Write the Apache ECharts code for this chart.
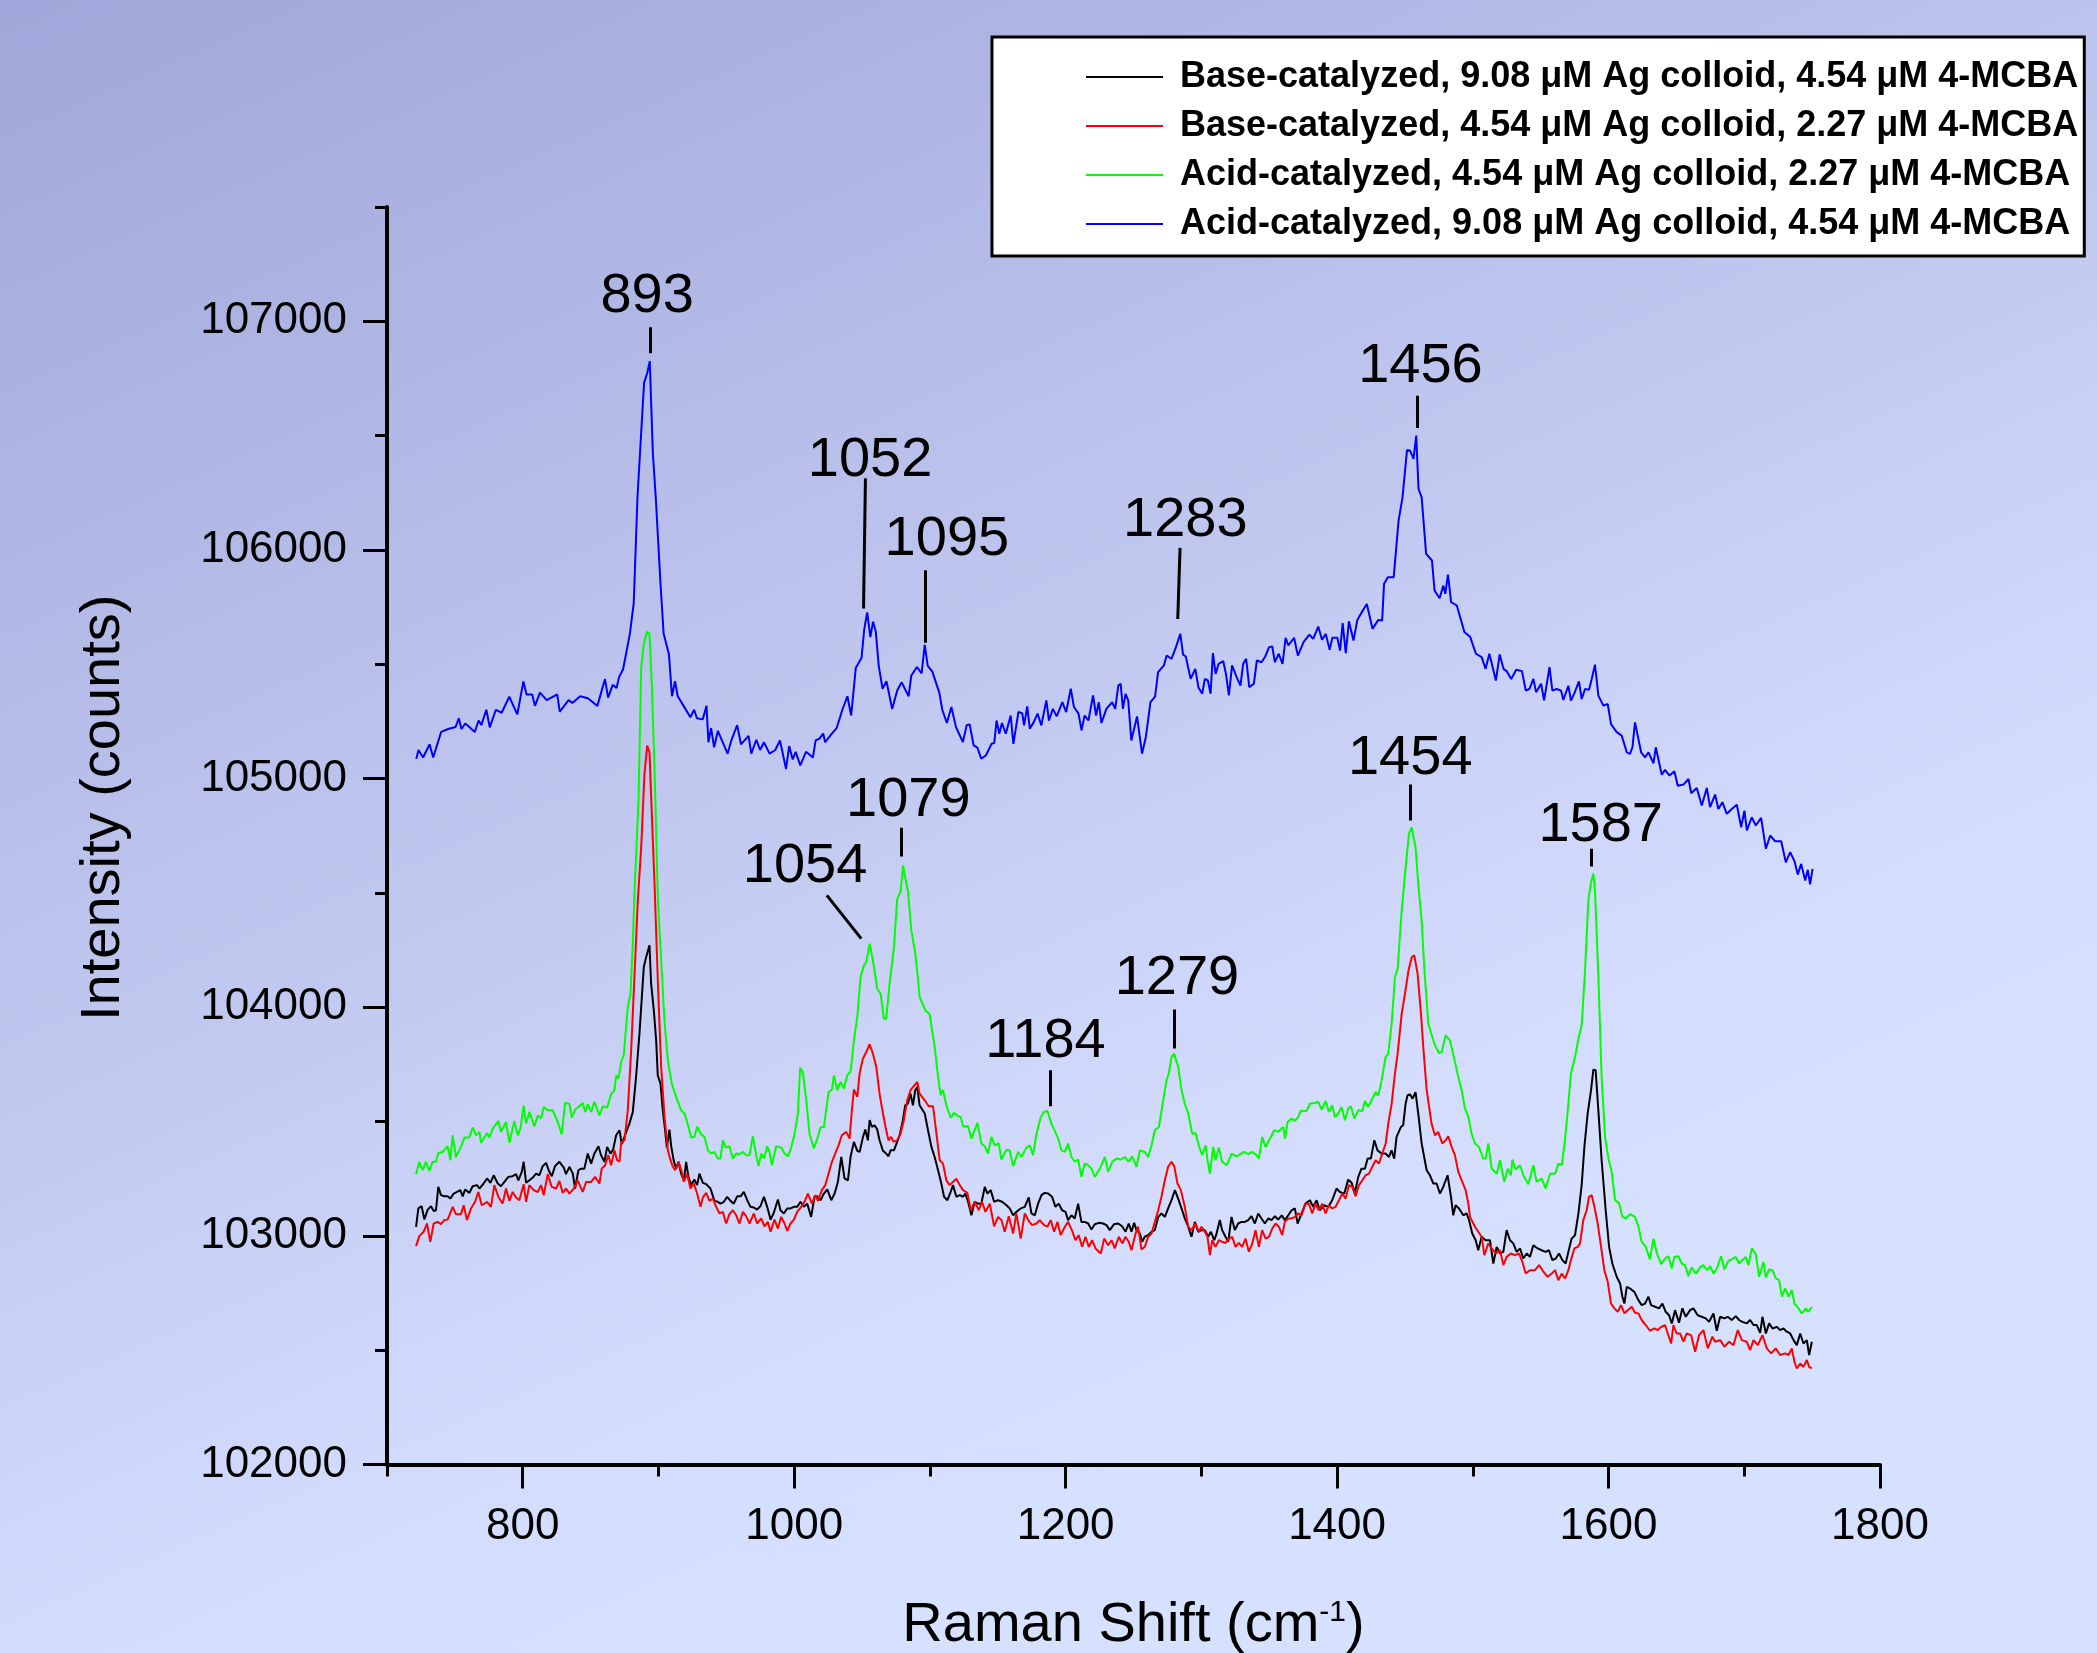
<!DOCTYPE html>
<html><head><meta charset="utf-8">
<script src="https://cdn.jsdelivr.net/npm/echarts@6/dist/echarts.min.js"></script>
<style>html,body{margin:0;padding:0;overflow:hidden;background:#c0c7ef}#c{width:2097px;height:1653px}</style>
</head><body><div id="c"></div>
<script>
const seriesNames = [
  'Base-catalyzed, 9.08 \u03bcM Ag colloid, 4.54 \u03bcM 4-MCBA',
  'Base-catalyzed, 4.54 \u03bcM Ag colloid, 2.27 \u03bcM 4-MCBA',
  'Acid-catalyzed, 4.54 \u03bcM Ag colloid, 2.27 \u03bcM 4-MCBA',
  'Acid-catalyzed, 9.08 \u03bcM Ag colloid, 4.54 \u03bcM 4-MCBA'
];
const seriesColors = ['#000000', '#ff0000', '#00ff00', '#0000ff'];

const xMajorTicks = [800, 1000, 1200, 1400, 1600, 1800];
const xMinorTicks = [700, 900, 1100, 1300, 1500, 1700];
const yMajorTicks = [102000, 103000, 104000, 105000, 106000, 107000];
const yMinorTicks = [102500, 103500, 104500, 105500, 106500, 107500];

const peakLabels = ['893', '1052', '1095', '1283', '1456', '1454', '1587', '1079', '1054', '1184', '1279'];
const peakLabelPos = [[891.7,107107],[1055.9,106393],[1112.5,106045],[1288.2,106129],[1461.4,106801],[1453.9,105087],[1594.2,104796],[1084.1,104903],[1008,104616],[1185.2,103848],[1282,104125]];
const peakLeaders = [
  [[893.9,106974],[893.9,106860]],
  [[1052.5,106313],[1051.1,105744]],
  [[1096.2,105911],[1096.2,105594]],
  [[1284.3,106009],[1282.6,105698]],
  [[1458.7,106674],[1458.7,106533]],
  [[1453.9,104974],[1453.9,104817]],
  [[1587.3,104693],[1587.3,104616]],
  [[1079,104785],[1079,104659]],
  [[1024.1,104489],[1049.4,104300]],
  [[1188.3,103724],[1188.3,103567]],
  [[1280,103990],[1280,103819]]
];

const blackData = [[721.4,103039],[723.1,103120],[725.5,103130],[727.5,103072],[730,103115],[732.4,103130],[734.4,103109],[736.1,103112],[737.8,103214],[739.8,103178],[742.2,103173],[744.7,103173],[746.7,103163],[749.1,103185],[751.6,103192],[754,103200],[755.8,103173],[757.5,103203],[760.7,103188],[763.1,103217],[766.3,103222],[768.1,103207],[771.2,103229],[773.7,103251],[776.2,103232],[778.6,103265],[781.6,103229],[784,103217],[786.5,103236],[789.4,103258],[792.6,103261],[795.1,103270],[796.8,103243],[799.3,103280],[800.7,103324],[802.5,103232],[804.9,103243],[807.4,103255],[809.8,103272],[812.3,103265],[814.7,103305],[817.2,103319],[819.6,103280],[821.4,103261],[823.8,103305],[827,103324],[830.2,103299],[831.9,103270],[834.4,103302],[836.9,103272],[838.6,103207],[841,103287],[843,103294],[845.4,103294],[847.9,103360],[850.4,103316],[852.8,103360],[855.8,103392],[857.7,103353],[860.2,103324],[862.2,103389],[864.6,103360],[866.6,103377],[868.8,103440],[871.3,103462],[873,103401],[875.4,103440],[878.6,103491],[881.1,103542],[883.5,103695],[886,103884],[889.2,104176],[890.9,104219],[893.4,104271],[894.6,104103],[896.6,103986],[898.3,103855],[899.5,103702],[901.5,103666],[903.2,103549],[904.9,103462],[906.2,103386],[908.1,103465],[909.3,103396],[911.3,103328],[913,103294],[914.8,103324],[916.7,103272],[918.7,103243],[920.4,103324],[922.1,103258],[924.1,103222],[926.5,103246],[928.5,103222],[930.2,103272],[932.7,103232],[935.2,103226],[938.3,103207],[941.3,103153],[943.7,103149],[945.7,103141],[948.2,103149],[950.6,103171],[953.1,103153],[955.5,103141],[958,103173],[960.5,103173],[962.9,103192],[965.4,103156],[967.8,103127],[970.3,103124],[972.7,103115],[975.2,103130],[977.7,103171],[980.1,103127],[982.6,103071],[985,103101],[988,103159],[989.9,103112],[992.4,103098],[994.9,103120],[997.3,103120],[999.8,103127],[1002.2,103127],[1004.7,103149],[1007.1,103127],[1009.6,103141],[1012.5,103083],[1015,103171],[1017,103173],[1019.4,103156],[1021.9,103185],[1024.4,103203],[1027.3,103156],[1029.8,103185],[1032.2,103236],[1034.7,103345],[1037.1,103251],[1039.6,103243],[1041.6,103348],[1044,103411],[1046.5,103372],[1048.2,103367],[1050.6,103430],[1052.4,103465],[1054.3,103418],[1055.6,103506],[1057.3,103476],[1059.2,103484],[1061.2,103465],[1062.9,103418],[1065.4,103372],[1067.8,103360],[1069.5,103348],[1071,103374],[1073.5,103374],[1075.9,103411],[1077.7,103440],[1080.1,103506],[1081.8,103571],[1083.8,103578],[1085.7,103622],[1087.5,103571],[1089.2,103637],[1090.7,103651],[1092.4,103571],[1096.2,103535],[1098.6,103462],[1101.1,103389],[1103.5,103345],[1106,103287],[1108.4,103229],[1110.4,103171],[1112.9,103156],[1115.3,103192],[1117,103222],[1119.5,103171],[1122,103178],[1124.4,103171],[1126.1,103185],[1128.1,103149],[1130.6,103090],[1133,103149],[1135.5,103141],[1137.9,103141],[1140.4,103214],[1142.4,103185],[1144.8,103200],[1147.3,103149],[1150.2,103156],[1153.2,103149],[1156.4,103134],[1158.8,103120],[1161.3,103090],[1163.7,103105],[1166.9,103120],[1169.9,103127],[1172.8,103168],[1174.8,103098],[1177.3,103090],[1179.7,103141],[1182.2,103178],[1184.6,103188],[1187.1,103185],[1190,103171],[1192.5,103127],[1194.9,103141],[1197.4,103112],[1199.9,103105],[1201.8,103069],[1204.3,103090],[1206.7,103076],[1209.2,103141],[1211.6,103061],[1214.1,103061],[1216.6,103054],[1219,103028],[1221.5,103051],[1224.4,103057],[1227.6,103054],[1230.1,103047],[1232.5,103025],[1235.7,103051],[1238.7,103054],[1241.6,103042],[1244.1,103018],[1246.5,103054],[1248.5,103018],[1250.5,103057],[1252.2,103025],[1254.7,103010],[1256.4,102974],[1258.3,102996],[1260.8,103003],[1263.3,103018],[1265.7,103025],[1268.2,103083],[1270.6,103098],[1273.1,103083],[1275.5,103120],[1278,103156],[1280.5,103200],[1282.9,103163],[1285.4,103120],[1287.8,103076],[1290.3,103040],[1292.7,102996],[1295.2,103061],[1297.7,103018],[1300.1,103025],[1302.6,103025],[1305,102996],[1307,103018],[1309.5,102981],[1311.2,103010],[1313.6,103069],[1315.3,103025],[1317.8,102996],[1319.8,102974],[1322.2,103083],[1324.7,103025],[1327.1,103054],[1329.6,103061],[1332,103061],[1334.5,103069],[1336.9,103086],[1339.4,103054],[1341.9,103098],[1344.3,103076],[1346.8,103054],[1349.3,103076],[1351.7,103069],[1354.2,103086],[1356.6,103071],[1359.2,103090],[1361.5,103069],[1364,103090],[1366.5,103112],[1368.9,103120],[1370.9,103054],[1376.7,103141],[1380,103156],[1382.4,103127],[1384.9,103156],[1387.3,103112],[1390.5,103134],[1393.5,103127],[1396.4,103156],[1399.6,103207],[1402.1,103192],[1405.3,103185],[1408.2,103246],[1410.7,103232],[1413.1,103188],[1415.6,103258],[1418,103294],[1420.5,103294],[1422.5,103338],[1424.9,103338],[1427.4,103418],[1429.8,103374],[1432.8,103360],[1435.7,103360],[1438.2,103345],[1440.1,103374],[1442.1,103338],[1443.8,103433],[1447,103476],[1448.7,103484],[1450.5,103579],[1451.9,103615],[1453.7,103619],[1455.6,103600],[1457.8,103629],[1459.8,103535],[1462.3,103404],[1466,103287],[1468.4,103265],[1470.9,103229],[1473.3,103229],[1475.8,103185],[1478.2,103214],[1481.4,103265],[1483.9,103171],[1485.6,103090],[1487.3,103134],[1489.8,103120],[1493,103090],[1495.4,103098],[1497.2,103069],[1499.6,103010],[1502.1,102981],[1504,102937],[1506.5,102996],[1509.4,102981],[1512.6,102981],[1515.1,102879],[1517.6,102952],[1520,102923],[1522.5,102930],[1524.9,103025],[1527.4,102981],[1529.8,102967],[1532.3,102930],[1534.8,102945],[1537.2,102901],[1539.7,102923],[1542.1,102908],[1544.6,102959],[1547.8,102945],[1550.7,102937],[1553.7,102930],[1556.1,102937],[1558.6,102894],[1561.1,102901],[1563.5,102923],[1566,102894],[1568.4,102879],[1570.4,102930],[1572.8,102988],[1575.3,103003],[1577.8,103098],[1580.2,103222],[1582.2,103389],[1584.6,103535],[1587.1,103637],[1588.8,103727],[1590.5,103724],[1592.5,103549],[1594.9,103331],[1597.9,103112],[1600.4,102952],[1602.8,102879],[1606,102821],[1608.5,102792],[1610.2,102734],[1611.7,102704],[1613.4,102777],[1615.8,102770],[1619,102755],[1622,102719],[1624.4,102697],[1626.9,102704],[1629.4,102734],[1631.3,102697],[1634.3,102690],[1637.2,102683],[1639.7,102704],[1642.1,102668],[1644.6,102653],[1646.6,102617],[1649,102675],[1651.9,102620],[1654.4,102683],[1656.9,102646],[1660.1,102675],[1662.5,102683],[1665.7,102653],[1668.7,102646],[1671.6,102639],[1674.1,102624],[1677.3,102661],[1679.7,102585],[1682.2,102646],[1685.4,102639],[1687.8,102646],[1690.8,102632],[1693.7,102649],[1696.2,102632],[1698.6,102624],[1701.8,102617],[1704.3,102632],[1706.8,102610],[1709.2,102610],[1711.7,102576],[1713.4,102646],[1715.9,102573],[1718.3,102617],[1720.8,102595],[1724,102602],[1726.4,102588],[1728.9,102595],[1731.3,102581],[1733.8,102573],[1736.3,102544],[1738.7,102522],[1741.2,102573],[1743.6,102529],[1746.1,102544],[1747.8,102479],[1749.8,102537]];

const redData = [[721.4,102955],[723.8,102999],[727,103018],[729.5,103054],[731.9,102974],[734.4,103054],[737.3,103061],[739.8,103051],[742.2,103069],[744.7,103071],[748.4,103127],[750.8,103095],[754.5,103095],[756.5,103134],[758.9,103069],[761.9,103120],[764.9,103149],[767.3,103192],[769.8,103134],[773.7,103149],[776.6,103127],[779.1,103222],[782.1,103170],[785.2,103141],[787.7,103207],[790.2,103153],[792.6,103192],[795.1,103168],[797.5,103156],[800.7,103226],[802.5,103149],[804.9,103222],[808.1,103200],[811.1,103192],[813.5,103222],[815.5,103178],[818.4,103270],[821.4,103214],[824.6,103207],[827,103240],[829.5,103188],[831.9,103207],[834.4,103185],[837.6,103207],[840.5,103243],[844.2,103192],[846.7,103236],[850.4,103236],[853.3,103258],[856.5,103229],[858.2,103294],[860.7,103309],[863.1,103353],[865.1,103309],[867.6,103374],[869.5,103331],[871.3,103324],[872.5,103407],[875,103418],[877.4,103549],[879.9,103812],[882.3,104132],[884.8,104467],[887.3,104700],[889.7,105020],[891.7,105144],[893.4,105115],[895.1,104846],[897.1,104540],[899.6,104103],[902,103738],[904.5,103520],[906.9,103374],[908.9,103331],[910.6,103302],[912.3,103287],[914.8,103324],[917.2,103280],[918.7,103236],[921.1,103272],[923.6,103207],[926.1,103229],[928.5,103185],[931,103127],[932.7,103168],[935.2,103188],[937.6,103153],[940.1,103163],[942.5,103127],[945,103098],[947.4,103105],[949.9,103054],[952.3,103095],[954.8,103112],[957.3,103090],[959.7,103054],[962.2,103105],[964.6,103086],[967.1,103054],[970.3,103098],[972.7,103054],[975.7,103076],[978.1,103042],[980.6,103061],[982.6,103018],[985.5,103071],[988,103032],[990.4,103083],[992.9,103054],[994.9,103022],[997.3,103054],[999.8,103071],[1002.2,103105],[1005.2,103127],[1007.6,103149],[1010.1,103185],[1013.1,103141],[1015.5,103178],[1017.5,103153],[1020.4,103200],[1022.9,103222],[1025.3,103272],[1027.8,103324],[1030.2,103360],[1032.7,103396],[1035.1,103440],[1038.4,103455],[1040.8,103425],[1042.5,103549],[1044,103640],[1046.5,103608],[1048.2,103710],[1050.6,103775],[1053.1,103804],[1055.6,103838],[1058,103797],[1060.5,103739],[1062.9,103622],[1065.4,103535],[1067.8,103462],[1069.5,103418],[1071.4,103433],[1073.3,103411],[1075.9,103418],[1078.4,103447],[1080.8,103506],[1083.3,103593],[1085.7,103637],[1088.7,103659],[1090.7,103673],[1092.4,103622],[1096.2,103593],[1099.1,103567],[1102.3,103567],[1104.8,103447],[1107.2,103331],[1109.7,103316],[1112.1,103243],[1114.6,103222],[1117,103236],[1119.5,103250],[1122,103222],[1124.4,103200],[1127.6,103188],[1130.1,103112],[1133,103149],[1136,103112],[1138.4,103149],[1140.9,103105],[1144.1,103141],[1147.3,103042],[1150.2,103083],[1152.7,103069],[1155.1,103018],[1158.1,103086],[1161.3,103010],[1163.7,103098],[1166.9,102988],[1169.9,103098],[1172.8,103066],[1175.3,103047],[1178.5,103054],[1180.9,103069],[1184.1,103047],[1186.6,103040],[1189,103069],[1191.5,103018],[1194,103061],[1196.4,103003],[1199.4,103040],[1201.8,103061],[1204.8,103022],[1207.2,102981],[1209.7,103003],[1212.1,102952],[1214.6,102996],[1217.1,102952],[1219.5,102981],[1222,102945],[1225.9,102923],[1228.4,102988],[1231.3,102959],[1233.8,102981],[1236.2,102945],[1239.2,102996],[1241.9,102967],[1244.1,102996],[1246.5,102974],[1248.5,102937],[1251.5,103010],[1253.4,103040],[1255.9,102940],[1258.3,102952],[1260.8,102996],[1263.3,103010],[1265.7,103061],[1268.2,103112],[1270.6,103171],[1273.1,103243],[1275.5,103302],[1278,103324],[1280,103305],[1282.4,103229],[1284.9,103200],[1287.8,103127],[1290.3,103040],[1292.7,103025],[1295.7,103054],[1298.1,103018],[1300.1,103040],[1302.6,103018],[1304.5,102996],[1306.3,102916],[1308,102981],[1310.4,102952],[1312.9,102981],[1315.3,102974],[1317.8,102969],[1320.3,102988],[1322.7,102996],[1325.2,102952],[1327.6,102969],[1330.1,102952],[1332.5,102988],[1335,102930],[1337.5,102967],[1339.9,103025],[1342.4,102952],[1344.8,103025],[1347.3,102988],[1349.8,102996],[1352.2,103032],[1354.7,103054],[1357.1,103040],[1359.6,103003],[1361.5,103061],[1364,103076],[1366.5,103076],[1368.9,103083],[1371.4,103098],[1373.8,103090],[1376.8,103141],[1379.2,103141],[1381.7,103098],[1384.1,103141],[1386.6,103112],[1389.1,103141],[1391.5,103098],[1394,103134],[1396.4,103120],[1398.9,103127],[1401.4,103156],[1403.8,103185],[1406.3,103163],[1408.7,103222],[1411.2,103214],[1413.6,103173],[1416.1,103222],[1418.6,103243],[1421,103265],[1423.5,103272],[1425.9,103302],[1428.4,103331],[1430.8,103316],[1433.3,103360],[1435.8,103404],[1437.7,103491],[1440.2,103578],[1442.6,103710],[1444.6,103797],[1447.6,103972],[1450,104059],[1452.6,104161],[1455,104219],[1456.9,104227],[1459.3,104147],[1461.8,103972],[1463.5,103826],[1466,103637],[1469.6,103491],[1472.1,103440],[1474.5,103455],[1477.5,103404],[1480,103418],[1481.9,103436],[1484.4,103389],[1486.8,103353],[1489.3,103280],[1491.8,103243],[1494.7,103200],[1496.7,103141],[1497.9,103083],[1501.6,103040],[1504,103018],[1506.5,102996],[1508.5,102916],[1511.4,102967],[1513.9,102945],[1516.8,102923],[1520,102937],[1522.5,102872],[1524.9,102908],[1528.1,102923],[1531.1,102916],[1534,102923],[1536.5,102886],[1539,102835],[1542.1,102850],[1545.8,102850],[1548.8,102872],[1552,102843],[1555.2,102821],[1558.1,102835],[1560.6,102850],[1563,102806],[1565.5,102835],[1568,102814],[1570.4,102850],[1572.3,102894],[1574.8,102945],[1577.3,102952],[1579,102967],[1581.4,103069],[1583.9,103112],[1585.6,103171],[1587.6,103178],[1589.6,103127],[1592,103054],[1594.5,102952],[1596.9,102850],[1599.4,102799],[1601.8,102704],[1604.3,102683],[1606.8,102668],[1609.2,102697],[1611.7,102661],[1614.1,102675],[1617.1,102690],[1619.5,102664],[1622,102661],[1624.4,102632],[1627.4,102610],[1630.5,102585],[1633.8,102595],[1636.2,102588],[1638.7,102602],[1641.6,102610],[1643.6,102573],[1646.1,102529],[1647.8,102610],[1650.2,102573],[1652.7,102573],[1655.2,102537],[1657.6,102573],[1660.8,102566],[1663.8,102493],[1666.7,102566],[1669.9,102588],[1673.1,102508],[1676.5,102559],[1678.5,102537],[1682.2,102544],[1685.4,102515],[1688.8,102537],[1692,102522],[1695.2,102588],[1698.2,102544],[1701.8,102537],[1704.3,102500],[1706.8,102544],[1710,102522],[1713.4,102566],[1716.6,102508],[1719.8,102486],[1723.2,102508],[1726.4,102479],[1730.1,102486],[1732.6,102479],[1735,102508],[1737,102449],[1738.7,102420],[1741.2,102442],[1743.6,102427],[1746.1,102457],[1747.8,102427],[1749.8,102420]];

const greenData = [[721.4,103270],[723.8,103324],[726.3,103287],[728.7,103324],[731.2,103284],[733.6,103324],[736.1,103324],[737.8,103363],[741,103367],[744.7,103392],[746.7,103331],[748.4,103440],[750.8,103345],[754.5,103389],[757,103430],[760.7,103430],[763.1,103474],[765.6,103440],[768.1,103455],[769.3,103407],[773.7,103450],[775.4,103430],[777.9,103469],[782.1,103503],[784,103455],[787.7,103498],[790.2,103407],[793.8,103503],[796.3,103440],[798.3,103469],[800.7,103571],[802.5,103491],[804.9,103542],[808.6,103479],[811.1,103527],[813.5,103513],[815.5,103564],[818.4,103549],[822.1,103549],[825.8,103498],[828.7,103444],[831.2,103581],[834.4,103578],[836.1,103517],[838.6,103552],[841,103564],[844.2,103581],[846,103542],[847.9,103576],[850.4,103542],[852.8,103586],[856.5,103527],[859,103567],[862.2,103561],[865.1,103619],[867.6,103637],[868.8,103702],[870.5,103688],[872.5,103761],[874.4,103790],[877.4,104001],[879.4,104059],[881.1,104278],[882.3,104496],[885.3,104904],[887.3,105487],[889.2,105589],[891.7,105644],[893.4,105632],[895.1,105414],[897.1,105050],[899.6,104467],[904.4,103943],[906.9,103768],[909.8,103666],[913,103608],[916.7,103549],[919.2,103535],[922.1,103477],[924.1,103430],[926.5,103433],[928.5,103477],[931.5,103444],[933.9,103433],[936.4,103374],[938.8,103360],[941.3,103367],[943.7,103338],[945.7,103338],[947.4,103418],[949.9,103386],[952.3,103392],[954.8,103338],[957.3,103360],[959.7,103357],[962.2,103367],[964.6,103353],[967.1,103353],[969.5,103436],[972,103353],[973.7,103305],[975.7,103360],[977.7,103338],[980.1,103392],[981.8,103367],[983.6,103309],[986.7,103392],[990.4,103386],[992.9,103360],[995.4,103348],[997.8,103386],[1000.3,103447],[1002.7,103535],[1004.4,103736],[1006.4,103717],[1008.9,103593],[1011.3,103447],[1014.5,103382],[1017,103425],[1019.4,103474],[1021.9,103477],[1025.3,103629],[1027.8,103640],[1029.3,103702],[1031.7,103637],[1034.2,103673],[1036.6,103644],[1039.1,103702],[1041.6,103721],[1044,103855],[1046.5,103957],[1048.9,104132],[1051.4,104183],[1053.1,104198],[1055.6,104278],[1058,104205],[1061.2,104081],[1063.7,104059],[1066.1,103950],[1067.8,103950],[1070.3,104103],[1073.5,104263],[1075.9,104474],[1078.4,104504],[1080.2,104620],[1083.9,104503],[1086.3,104336],[1089.3,104234],[1092.5,104044],[1096.6,103986],[1099.8,103969],[1103.5,103826],[1106,103695],[1107.9,103615],[1109.7,103637],[1112.1,103571],[1115.3,103517],[1117.8,103538],[1120.7,103523],[1122.7,103520],[1124.4,103479],[1128.1,103479],[1130.6,103425],[1135,103494],[1137.9,103404],[1140.4,103392],[1142.8,103360],[1145.3,103433],[1147.8,103396],[1150.7,103404],[1152.7,103334],[1156.4,103377],[1158.8,103374],[1161.3,103305],[1165,103367],[1167.4,103345],[1171.1,103386],[1173.6,103396],[1176,103353],[1178.5,103447],[1181.7,103520],[1184.1,103542],[1186.6,103546],[1189.5,103491],[1192,103459],[1194.5,103425],[1196.9,103374],[1199.4,103367],[1201.8,103404],[1204.3,103345],[1206.7,103324],[1209.2,103334],[1211.6,103258],[1214.1,103316],[1216.6,103309],[1219,103294],[1221.5,103258],[1225.2,103294],[1228.9,103345],[1231.3,103280],[1234.3,103324],[1237.5,103338],[1240.6,103334],[1243.6,103345],[1246.5,103324],[1249,103348],[1252.2,103302],[1254.7,103374],[1258.3,103367],[1260.8,103345],[1263.3,103396],[1265.7,103462],[1268.7,103476],[1271.1,103564],[1274.3,103680],[1276,103710],[1278,103782],[1279.9,103797],[1282.9,103739],[1285.4,103637],[1287.8,103578],[1290.3,103535],[1293.2,103447],[1295.7,103450],[1298.1,103396],[1300.6,103353],[1303.1,103396],[1304.5,103331],[1306.3,103272],[1308.7,103389],[1310.4,103331],[1312.9,103386],[1315.3,103324],[1318.5,103309],[1320.3,103331],[1322.2,103360],[1325.9,103348],[1328.4,103357],[1331.6,103367],[1334.5,103357],[1337.5,103367],[1340.7,103353],[1342.4,103338],[1344.8,103433],[1347.3,103389],[1350.5,103425],[1353.7,103462],[1356.6,103455],[1360.4,103476],[1361.6,103425],[1363.5,103498],[1366.5,103513],[1369,103503],[1371.4,103520],[1373.3,103549],[1375.1,103546],[1377.5,103546],[1380,103578],[1383.2,103581],[1386.1,103586],[1388.6,103552],[1391.5,103590],[1394,103542],[1396.4,103571],[1398.4,103520],[1400.9,103535],[1403.3,103564],[1405.8,103506],[1408.2,103557],[1410.2,103567],[1412.7,103513],[1415.6,103549],[1418.6,103546],[1420.5,103590],[1423,103564],[1425.4,103593],[1428.4,103629],[1430.4,103615],[1432.8,103680],[1435.7,103782],[1437.7,103797],[1440.2,103928],[1442.6,104132],[1444.6,104168],[1447.6,104423],[1450.5,104612],[1452.9,104758],[1454.9,104787],[1456.1,104787],[1457.8,104700],[1459.8,104540],[1462.3,104379],[1464.2,104175],[1467.2,103928],[1471.6,103841],[1475,103800],[1477,103804],[1480,103877],[1483.2,103855],[1486.8,103761],[1489.3,103695],[1491.8,103637],[1494.2,103557],[1496.7,103520],[1499.1,103447],[1501.6,103404],[1504.5,103389],[1507.7,103338],[1509.4,103338],[1511.4,103404],[1513.9,103294],[1517.6,103272],[1520,103331],[1523.2,103236],[1525.7,103294],[1528.1,103265],[1529.1,103334],[1531.6,103290],[1534.8,103309],[1537.2,103265],[1540.9,103226],[1544.6,103309],[1547,103236],[1550.7,103251],[1553.7,103207],[1556.9,103272],[1560.6,103272],[1563,103316],[1565.5,103309],[1567.9,103418],[1570.4,103579],[1572.3,103710],[1575.8,103797],[1577.8,103863],[1580.2,103921],[1582.7,104161],[1585.1,104467],[1587.1,104547],[1588.8,104584],[1590,104511],[1592.5,104132],[1594.9,103695],[1597.4,103433],[1599.9,103338],[1602.3,103280],[1604.8,103156],[1607.7,103144],[1610.2,103083],[1612.6,103076],[1615.8,103095],[1619.5,103083],[1622,103040],[1624.4,102974],[1627.4,102952],[1630.5,102897],[1633.1,102988],[1635.5,102926],[1638.7,102876],[1641.6,102901],[1644.1,102911],[1646.6,102857],[1648.5,102908],[1651.5,102911],[1653.9,102879],[1656.4,102872],[1658.8,102824],[1661.3,102862],[1664.3,102835],[1667.4,102862],[1669.9,102872],[1672.4,102850],[1674.8,102867],[1677.3,102835],[1679.7,102857],[1682.9,102911],[1685.4,102853],[1688.3,102891],[1690.8,102897],[1693.7,102908],[1696.2,102879],[1698.6,102894],[1701.1,102908],[1703.1,102872],[1705.5,102945],[1708.5,102920],[1710.9,102821],[1714.1,102886],[1715.9,102818],[1718.3,102853],[1720.8,102850],[1723.2,102814],[1725.7,102806],[1727.7,102734],[1730.1,102770],[1732.6,102734],[1735,102763],[1737,102704],[1739.9,102683],[1742.4,102661],[1745.3,102683],[1747.3,102668],[1749.8,102690]];

const blueData = [[721.6,105087],[723.2,105125],[726.6,105092],[731.4,105150],[734,105092],[739.9,105204],[745,105217],[750.6,105226],[752.9,105264],[754.8,105217],[757.7,105241],[764.7,105204],[767.5,105254],[769.5,105234],[773.2,105301],[775.7,105224],[780.2,105301],[784.5,105288],[790.1,105358],[796,105281],[800.5,105425],[802.8,105368],[807,105368],[809,105318],[812.7,105376],[817.7,105343],[825.4,105368],[827.3,105293],[833.8,105343],[836.6,105331],[842.3,105360],[848,105351],[855,105318],[860.6,105435],[862.9,105354],[866.3,105410],[869.1,105396],[871.1,105446],[873.9,105477],[879,105635],[881.8,105769],[884.6,106238],[889.4,106731],[891.7,106773],[893.6,106826],[895.9,106421],[898.1,106221],[901.5,105853],[903.8,105635],[907.7,105544],[910,105360],[912.2,105426],[914.2,105360],[918.5,105318],[923.5,105268],[926.3,105301],[928.3,105264],[932.6,105259],[935.4,105318],[936.8,105159],[938.8,105221],[941,105137],[943.8,105209],[950.9,105109],[953.7,105167],[958,105234],[960.8,105150],[966.4,105187],[968.4,105109],[972.1,105170],[974.9,105125],[977.7,105159],[981.9,105109],[986.1,105125],[989.5,105167],[994,105042],[996.3,105142],[998.9,105084],[1001.1,105117],[1004.5,105058],[1008.7,105117],[1013.8,105092],[1015.8,105167],[1018.6,105175],[1021.4,105197],[1022.8,105159],[1027.1,105192],[1031.3,105221],[1035.5,105301],[1039.2,105360],[1042,105276],[1045.4,105485],[1049.6,105527],[1051.6,105652],[1053.8,105727],[1056.1,105619],[1058.1,105686],[1060.1,105644],[1062.3,105493],[1065.1,105393],[1068,105426],[1072.2,105304],[1075.9,105385],[1079.2,105421],[1084.3,105360],[1086.3,105451],[1090.5,105488],[1093.9,105460],[1096.2,105585],[1098.4,105493],[1101.8,105468],[1106.9,105376],[1109.1,105301],[1112.5,105243],[1115.8,105313],[1119.2,105225],[1124.3,105160],[1127.1,105233],[1129.3,105237],[1132.2,105145],[1135,105135],[1137.8,105087],[1141.2,105101],[1145.4,105152],[1147.4,105155],[1149.1,105254],[1151.1,105196],[1153.1,105243],[1155.9,105196],[1159.5,105276],[1161.5,105152],[1165.2,105291],[1168,105286],[1169.4,105233],[1171.7,105316],[1173.6,105218],[1176.5,105247],[1179.3,105284],[1182.1,105233],[1185.8,105342],[1187.7,105254],[1190.6,105305],[1193.4,105272],[1197.6,105334],[1200.4,105291],[1203.8,105393],[1206.1,105313],[1209.5,105284],[1211.7,105211],[1214,105276],[1216.8,105254],[1220.2,105364],[1222.4,105276],[1224.4,105334],[1226.4,105243],[1230,105305],[1234.3,105334],[1236.5,105305],[1238.8,105407],[1240.5,105415],[1242.2,105305],[1244.2,105371],[1246.1,105342],[1248.4,105167],[1252.6,105272],[1256.3,105109],[1259.1,105182],[1262.5,105334],[1265.9,105359],[1268.1,105466],[1272.4,105495],[1274.4,105538],[1278,105524],[1280.8,105567],[1284.5,105633],[1286.5,105543],[1288.5,105534],[1292.1,105436],[1295.5,105480],[1297.8,105400],[1300.6,105371],[1302.6,105436],[1304.8,105429],[1306.8,105371],[1308.5,105549],[1310.5,105458],[1312.7,105502],[1316.1,105514],[1318.1,105458],[1320.3,105364],[1322.6,105495],[1326,105444],[1328.8,105407],[1330.8,105502],[1333,105524],[1335.3,105400],[1338.7,105415],[1340.9,105517],[1344.3,105509],[1347.1,105534],[1349.9,105575],[1352.2,105578],[1354.2,105509],[1357,105546],[1359.8,105502],[1362.1,105616],[1364.1,105582],[1368.3,105616],[1371.1,105538],[1375.3,105597],[1379.6,105630],[1382.4,105611],[1386.1,105665],[1388.9,105607],[1391.7,105633],[1394.5,105563],[1396.5,105616],[1400.2,105616],[1402.2,105560],[1404.1,105680],[1406.4,105549],[1408.7,105688],[1412.1,105604],[1414.9,105694],[1418.2,105728],[1421.9,105764],[1426.1,105655],[1430.4,105694],[1433.2,105691],[1434.6,105852],[1437.4,105881],[1441.7,105881],[1445.3,106128],[1448.2,106230],[1451.5,106437],[1453.8,106434],[1456.3,106398],[1458.3,106500],[1460,106267],[1462.3,106230],[1465.6,105983],[1469.9,105954],[1471.8,105823],[1475.5,105789],[1478.3,105844],[1479.7,105808],[1481.7,105892],[1484,105772],[1488.2,105757],[1493.8,105641],[1498.1,105619],[1502.3,105546],[1506.5,105531],[1509.4,105480],[1512.2,105546],[1517,105429],[1519.8,105543],[1522.6,105480],[1524.9,105470],[1528.3,105436],[1532,105476],[1536.2,105470],[1539,105385],[1541.8,105393],[1544.6,105436],[1546.6,105378],[1550.3,105415],[1552.5,105342],[1556.5,105487],[1558.6,105385],[1561.8,105392],[1565,105385],[1566.7,105344],[1570.4,105406],[1572.3,105341],[1574.8,105373],[1578.2,105425],[1580.2,105348],[1582.7,105392],[1585.6,105388],[1587.6,105436],[1590,105498],[1592.5,105363],[1596.2,105319],[1599.4,105326],[1601.8,105239],[1606,105203],[1609.7,105188],[1613.4,105115],[1615.8,105108],[1617.6,105137],[1619.5,105246],[1624,105115],[1626.9,105093],[1629.4,105115],[1633.1,105067],[1634.8,105137],[1639.2,105017],[1641.6,105038],[1644.9,105013],[1648.5,105032],[1651,104969],[1655.2,104974],[1658.9,104999],[1660.9,104936],[1665,104959],[1668.7,104882],[1672.4,104959],[1674.8,104875],[1678.5,104930],[1680.9,104867],[1683.9,104897],[1687.1,104846],[1690.8,104867],[1694.5,104886],[1697.7,104787],[1700.1,104860],[1701.9,104773],[1705.5,104831],[1708.5,104795],[1712.4,104828],[1715.9,104693],[1719.1,104751],[1722.7,104726],[1727.2,104726],[1730.6,104634],[1733.8,104678],[1737,104639],[1739.4,104580],[1741.9,104627],[1744.9,104554],[1746.8,104601],[1748.5,104537],[1750.3,104605]];

const spectra = [blackData, redData, greenData, blueData];
const FONT = '"Liberation Sans", Arial, Helvetica, sans-serif';

const chart = echarts.init(document.getElementById('c'), null, {renderer: 'canvas', width: 2097, height: 1653});
const plainNumber = v => String(v);

function majorAxis(extra) {
  return Object.assign({
    type: 'value',
    axisLine: {show: true, onZero: false, lineStyle: {color: '#000', width: 4}},
    splitLine: {show: false},
    minorTick: {show: false},
    minorSplitLine: {show: false}
  }, extra);
}

const option = {
  animation: false,
  backgroundColor: {
    type: 'linear', x: 0, y: 0, x2: 0.35, y2: 1,
    colorStops: [
      {offset: 0, color: '#a0a6d9'},
      {offset: 0.5, color: '#bdc4ed'},
      {offset: 0.85, color: '#d3dcfd'},
      {offset: 1, color: '#d6e0ff'}
    ]
  },
  grid: {left: 387, right: 217, top: 207, bottom: 188.5, containLabel: false, outerBoundsMode: 'none'},
  legend: {
    data: seriesNames.map((n, i) => ({name: n, icon: 'rect', itemStyle: {color: seriesColors[i]}})),
    orient: 'vertical',
    left: 992, top: 37,
    padding: [20, 6, 12, 94],
    itemWidth: 77, itemHeight: 2, itemGap: 9,
    backgroundColor: '#ffffff',
    borderColor: '#000000', borderWidth: 3, borderRadius: 0,
    selectedMode: false,
    textStyle: {fontSize: 36, fontWeight: 'bold', fontFamily: FONT, color: '#000', lineHeight: 40, padding: [0, 0, 0, 12]}
  },
  xAxis: [
    majorAxis({
      min: 700, max: 1800, position: 'bottom',
      axisTick: {show: true, customValues: xMajorTicks, length: 24, inside: false, lineStyle: {color: '#000', width: 3}},
      axisLabel: {customValues: xMajorTicks, formatter: plainNumber, margin: 40, fontSize: 44, color: '#000', fontFamily: FONT},
      name: 'Raman Shift (cm{sup|-1})',
      nameLocation: 'middle', nameGap: 133,
      nameTextStyle: {fontSize: 56, color: '#000', fontFamily: FONT,
        rich: {sup: {fontSize: 30, color: '#000', fontFamily: FONT, verticalAlign: 'top', lineHeight: 30}}}
    }),
    {
      type: 'value', min: 700, max: 1800, position: 'bottom', gridIndex: 0,
      axisLine: {show: false, onZero: false},
      axisTick: {show: true, customValues: xMinorTicks, length: 12, inside: false, lineStyle: {color: '#000', width: 3}},
      axisLabel: {show: false}, splitLine: {show: false}
    }
  ],
  yAxis: [
    majorAxis({
      min: 102000, max: 107500, position: 'left',
      axisTick: {show: true, customValues: yMajorTicks, length: 24, inside: false, lineStyle: {color: '#000', width: 3}},
      axisLabel: {customValues: yMajorTicks, formatter: plainNumber, margin: 40, fontSize: 44, color: '#000', fontFamily: FONT},
      name: 'Intensity (counts)',
      nameLocation: 'middle', nameGap: 255,
      nameTextStyle: {fontSize: 56, color: '#000', fontFamily: FONT, padding: [0, 0, 0, 56]}
    }),
    {
      type: 'value', min: 102000, max: 107500, position: 'left', gridIndex: 0,
      axisLine: {show: false, onZero: false},
      axisTick: {show: true, customValues: yMinorTicks, length: 12, inside: false, lineStyle: {color: '#000', width: 3}},
      axisLabel: {show: false}, splitLine: {show: false}
    }
  ],
  series: [
    ...spectra.map((d, i) => ({
      name: seriesNames[i], type: 'line', data: d,
      xAxisIndex: 0, yAxisIndex: 0,
      symbol: 'none', showSymbol: false, silent: true,
      color: seriesColors[i],
      lineStyle: {color: seriesColors[i], width: 2},
      z: 2 + i
    })),
    {
      name: 'leaders', type: 'lines', coordinateSystem: 'cartesian2d',
      xAxisIndex: 0, yAxisIndex: 0, silent: true, z: 10,
      lineStyle: {color: '#000', width: 3, opacity: 1, curveness: 0},
      data: peakLeaders.map(c => ({coords: c}))
    },
    {
      name: 'peaks', type: 'scatter', xAxisIndex: 0, yAxisIndex: 0, silent: true, z: 10,
      symbolSize: 1, itemStyle: {color: 'rgba(0,0,0,0)', opacity: 1},
      label: {show: true, position: 'inside', formatter: '{b}', fontSize: 56, color: '#000000', opacity: 1,
        textBorderWidth: 0, textBorderColor: 'transparent', fontFamily: FONT},
      data: peakLabelPos.map((p, i) => ({name: peakLabels[i], value: p}))
    }
  ]
};
chart.setOption(option);
</script>
</body></html>
